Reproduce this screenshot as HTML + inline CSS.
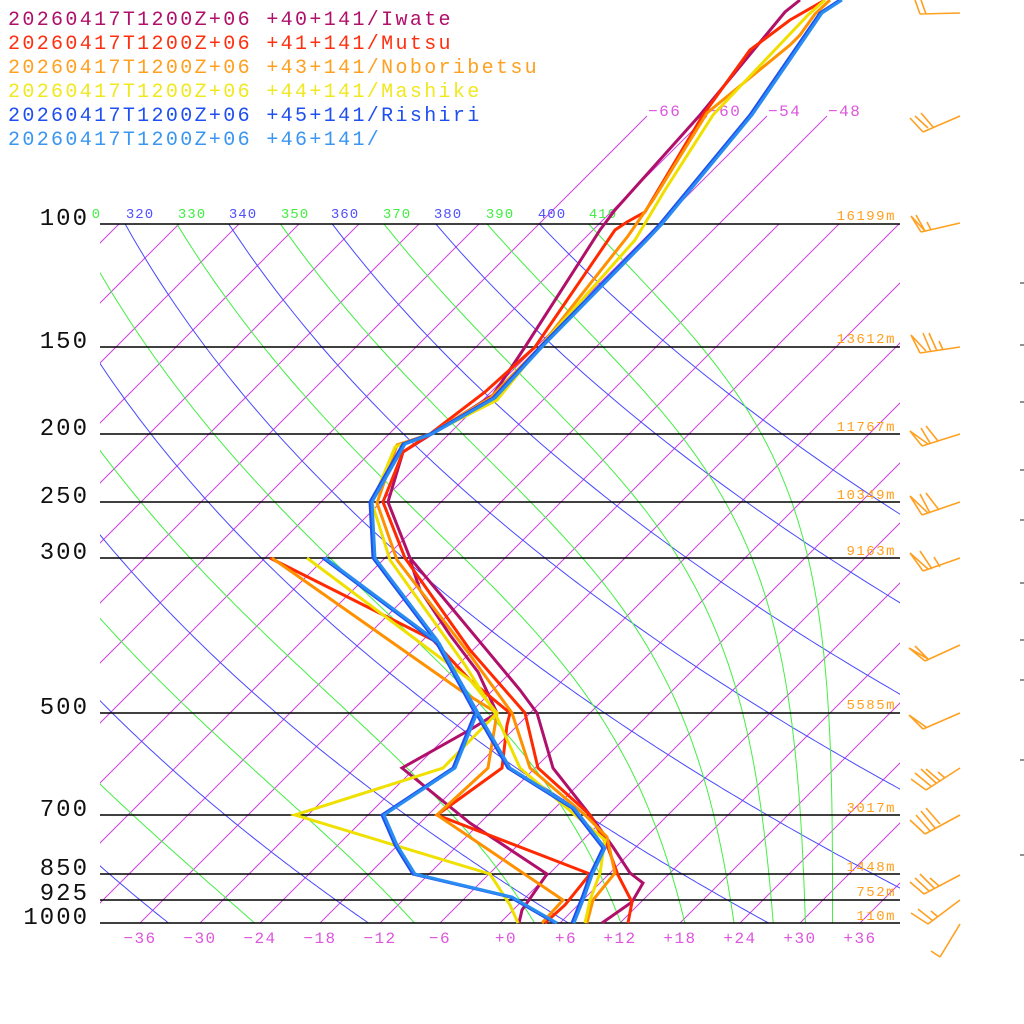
<!DOCTYPE html>
<html><head><meta charset="utf-8">
<style>
html,body{margin:0;padding:0;background:#fff;}
svg{display:block;}
text{font-family:"Liberation Mono","DejaVu Sans Mono",monospace;}
</style></head>
<body>
<svg id="s" width="1024" height="1024" viewBox="0 0 1024 1024" xmlns="http://www.w3.org/2000/svg">
<defs><clipPath id="c"><rect x="100" y="224" width="800" height="699"/></clipPath></defs>
<g id="grid" clip-path="url(#c)"></g>
<g id="iso2" stroke="#cc44dd" stroke-width="1"></g>
<g stroke="#000" stroke-width="1.5">
<line x1="100" y1="224" x2="900" y2="224"/>
<line x1="100" y1="347" x2="900" y2="347"/>
<line x1="100" y1="434" x2="900" y2="434"/>
<line x1="100" y1="502" x2="900" y2="502"/>
<line x1="100" y1="558" x2="900" y2="558"/>
<line x1="100" y1="713" x2="900" y2="713"/>
<line x1="100" y1="815" x2="900" y2="815"/>
<line x1="100" y1="874" x2="900" y2="874"/>
<line x1="100" y1="900" x2="900" y2="900"/>
<line x1="100" y1="923" x2="900" y2="923"/>
</g>
<g font-size="24" fill="#111" text-anchor="end" letter-spacing="2">
<text x="89" y="225">100</text>
<text x="89" y="348">150</text>
<text x="89" y="435">200</text>
<text x="89" y="503">250</text>
<text x="89" y="559">300</text>
<text x="89" y="714">500</text>
<text x="89" y="816">700</text>
<text x="89" y="875">850</text>
<text x="89" y="900">925</text>
<text x="89" y="924">1000</text>
</g>
<g font-size="14" fill="#ffa020" text-anchor="end" letter-spacing="1.5">
<text x="896" y="220">16199m</text>
<text x="896" y="343">13612m</text>
<text x="896" y="431">11767m</text>
<text x="896" y="499">10349m</text>
<text x="896" y="555">9163m</text>
<text x="896" y="709">5585m</text>
<text x="896" y="812">3017m</text>
<text x="896" y="871">1448m</text>
<text x="896" y="896">752m</text>
<text x="896" y="920">110m</text>
</g>
<g font-size="14" text-anchor="middle" letter-spacing="1">
<text x="140" y="218" fill="#5050ff">320</text>
<text x="192" y="218" fill="#44ee44">330</text>
<text x="243" y="218" fill="#5050ff">340</text>
<text x="295" y="218" fill="#44ee44">350</text>
<text x="345" y="218" fill="#5050ff">360</text>
<text x="397" y="218" fill="#44ee44">370</text>
<text x="448" y="218" fill="#5050ff">380</text>
<text x="500" y="218" fill="#44ee44">390</text>
<text x="552" y="218" fill="#5050ff">400</text>
<text x="603" y="218" fill="#44ee44">410</text>
<text x="101" y="218" fill="#44ee44" text-anchor="end" font-size="14">0</text>
</g>
<g font-size="16" fill="#dd55dd" letter-spacing="1.5">
<text x="648" y="116">−66</text>
<text x="708" y="116">−60</text>
<text x="768" y="116">−54</text>
<text x="828" y="116">−48</text>
</g>
<g font-size="16" fill="#dd55dd" text-anchor="middle" letter-spacing="1.5">
<text x="140" y="943">−36</text>
<text x="200" y="943">−30</text>
<text x="260" y="943">−24</text>
<text x="320" y="943">−18</text>
<text x="380" y="943">−12</text>
<text x="440" y="943">−6</text>
<text x="506" y="943">+0</text>
<text x="566" y="943">+6</text>
<text x="620" y="943">+12</text>
<text x="680" y="943">+18</text>
<text x="740" y="943">+24</text>
<text x="800" y="943">+30</text>
<text x="860" y="943">+36</text>
</g>
<g font-size="20" letter-spacing="2.35">
<text x="8" y="25" fill="#b0106a">20260417T1200Z+06 +40+141/Iwate</text>
<text x="8" y="49" fill="#ff3010">20260417T1200Z+06 +41+141/Mutsu</text>
<text x="8" y="73" fill="#ffa020">20260417T1200Z+06 +43+141/Noboribetsu</text>
<text x="8" y="97" fill="#f0e820">20260417T1200Z+06 +44+141/Mashike</text>
<text x="8" y="121" fill="#1f4ff0">20260417T1200Z+06 +45+141/Rishiri</text>
<text x="8" y="145" fill="#3a96f0">20260417T1200Z+06 +46+141/</text>
</g>
<g fill="none" stroke-width="3" stroke-linejoin="miter">
<polyline stroke="#b0106a" points="602,923 632,902 643,883 630,873 613,847 590,815 553,768 537,713 520,690 410,558 388,502 403,452 430,435 493,395 525,347 600,230 615,210 700,115 785,12 800,0"/>
<polyline stroke="#b0106a" points="519,923 522,910 547,874 470,823 402,768 473,728 497,713 478,672 450,635 420,590 410,560"/>
<polyline stroke="#ff2a00" points="628,923 632,902 618,875 607,845 590,815 538,768 525,713 470,650 405,558 383,502 403,452 430,434 485,392 535,347 615,230 627,222 645,212 703,115 750,50 790,20 825,0"/>
<polyline stroke="#ff2a00" points="545,923 565,905 590,874 437,815 502,768 507,725 510,713 470,680 433,640 270,558"/>
<polyline stroke="#ff9000" points="587,923 593,900 615,873 607,837 585,815 530,768 512,713 470,655 397,560 377,503 397,445 430,434 490,398 540,347 628,236 653,200 707,113 790,45 800,35 815,14 830,0"/>
<polyline stroke="#ff9000" points="542,923 563,900 437,815 488,768 497,713 460,690 272,558"/>
<polyline stroke="#f0e000" points="585,923 590,900 600,873 605,840 575,815 520,768 495,713 465,665 390,560 372,503 395,447 430,434 497,400 540,347 635,240 665,190 713,115 808,15 825,0"/>
<polyline stroke="#f0e000" points="518,923 510,905 490,874 295,815 443,768 497,713 470,680 307,558"/>
<polyline stroke="#1f4ff0" points="572,923 583,895 590,875 603,848 572,808 508,768 476,713 435,640 373,558 370,502 403,444 430,434 493,398 540,347 645,240 660,224 750,115 820,13 840,0"/>
<polyline stroke="#1f4ff0" points="555,923 510,897 413,874 395,845 382,815 453,768 475,713 437,643 323,558"/>
<polyline stroke="#2a8cf0" points="574,923 585,895 592,875 605,848 574,808 510,768 478,713 437,640 375,558 372,502 405,444 432,434 495,398 542,347 647,240 662,224 752,115 822,13 842,0"/>
<polyline stroke="#2a8cf0" points="557,923 512,897 415,874 397,845 384,815 455,768 477,713 439,643 325,558"/>
</g>
<g fill="none" stroke="#ffa020" stroke-width="1.6">
<path d="M920,14 L960,13 M920,14 L915,0 M926,14 L921,0"/>
<path d="M923,132 L960,116 M923,132 L910,118 M928,128 L915,116 M933,127 L921,113"/>
<path d="M921,232 L960,223 M921,232 L911,216 L925,231 M925,231 L916,215 M931,230 L927,222"/>
<path d="M920,353 L960,347 M920,353 L911,335 L926,351 M931,352 L923,333 M937,351 L929,333 M943,350 L939,341"/>
<path d="M922,446 L960,434 M922,446 L910,431 L928,444 M930,443 L921,428 M938,441 L926,426"/>
<path d="M922,515 L960,502 M922,515 L910,496 L928,513 M930,513 L920,494 M939,510 L926,493"/>
<path d="M923,571 L960,558 M923,571 L910,553 L928,569 M932,569 L920,551 M940,567 L934,557"/>
<path d="M925,661 L960,645 M925,661 L909,648 L928,659 M928,659 L915,646"/>
<path d="M923,729 L960,713 M923,729 L909,715 L926,727"/>
<path d="M926,790 L960,768 M926,790 L911,779 M932,787 L915,773 M936,783 L921,769 M940,781 L926,769 M945,778 L938,772"/>
<path d="M925,834 L960,815 M925,834 L910,820 M930,831 L916,815 M935,828 L921,811 M940,824 L926,808"/>
<path d="M924,894 L960,875 M924,894 L910,882 M929,891 L915,878 M934,888 L920,874 M939,886 L930,878"/>
<path d="M928,924 L960,900 M928,924 L911,913 M933,921 L918,909 M938,917 L931,911"/>
<path d="M940,957 L960,924 M940,957 L931,951"/>
</g>
<g stroke="#222" stroke-width="1">
<line x1="1020" y1="283" x2="1024" y2="283"/>
<line x1="1020" y1="345" x2="1024" y2="345"/>
<line x1="1020" y1="402" x2="1024" y2="402"/>
<line x1="1020" y1="470" x2="1024" y2="470"/>
<line x1="1020" y1="520" x2="1024" y2="520"/>
<line x1="1020" y1="583" x2="1024" y2="583"/>
<line x1="1020" y1="640" x2="1024" y2="640"/>
<line x1="1020" y1="680" x2="1024" y2="680"/>
<line x1="1020" y1="760" x2="1024" y2="760"/>
<line x1="1020" y1="855" x2="1024" y2="855"/>
</g>
</svg>
<script>
(function(){
var NS="http://www.w3.org/2000/svg";
var g=document.getElementById("grid"), g2=document.getElementById("iso2");
function Y(p){return 923-303.6*Math.log(1000/p);}
function X(T,y){return 500+10*T+(923-y);}
function line(par,x1,y1,x2,y2,col){var l=document.createElementNS(NS,"line");l.setAttribute("x1",x1);l.setAttribute("y1",y1);l.setAttribute("x2",x2);l.setAttribute("y2",y2);l.setAttribute("stroke",col);l.setAttribute("stroke-width","1");par.appendChild(l);}
function poly(pts,col){var l=document.createElementNS(NS,"polyline");l.setAttribute("points",pts.join(" "));l.setAttribute("fill","none");l.setAttribute("stroke",col);l.setAttribute("stroke-width","1");g.appendChild(l);}
for(var T=-114;T<=42;T+=6){line(g,X(T,923),923,X(T,224),224,"#cc44dd");}
for(var T=-66;T<=-48;T+=6){line(g2,X(T,224),224,X(T,116),116,"#cc44dd");}
for(var th=200;th<=400;th+=20){var pts=[];for(var p=100;p<=1000;p+=5){var y=Y(p);var Tc=th*Math.pow(p/1000,0.2857)-273.15;pts.push(X(Tc,y).toFixed(1)+","+y.toFixed(1));}poly(pts,"#4848ff");}
function the(TK,p){var Tc=TK-273.15;var es=6.112*Math.exp(17.67*Tc/(Tc+243.5));var rs=0.622*es/Math.max(p-es,1);return TK*Math.pow(1000/p,0.2857)*Math.exp(2.68e6*rs/(1005*TK));}
for(var te=210;te<=410;te+=20){var pts=[];for(var p=100;p<=1000;p+=5){var lo=120,hi=340;for(var i=0;i<50;i++){var m=(lo+hi)/2;if(the(m,p)>te)hi=m;else lo=m;}var y=Y(p);pts.push(X(lo-273.15,y).toFixed(1)+","+y.toFixed(1));}poly(pts,"#44ee44");}
})();
</script>
</body></html>
